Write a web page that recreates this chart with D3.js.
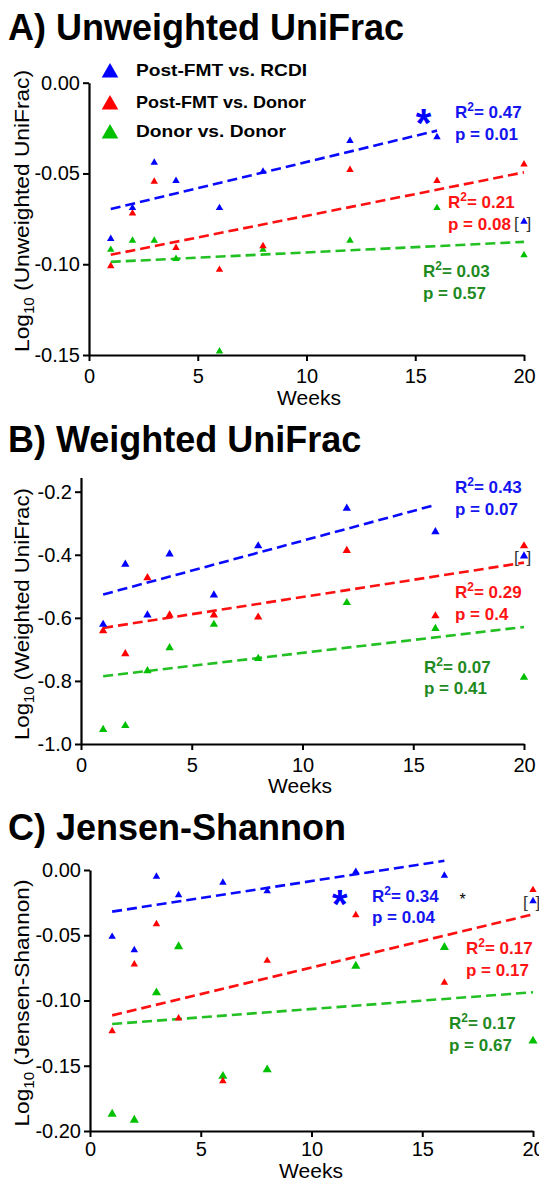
<!DOCTYPE html>
<html>
<head>
<meta charset="utf-8">
<script src="https://cdn.jsdelivr.net/npm/d3@7"></script>
<style>
  html, body { margin: 0; padding: 0; background: #fff; }
  svg { display: block; }
  text { font-family: "Liberation Sans", Arial, Helvetica, sans-serif; }
</style>
</head>
<body>
<div id="chart"></div>
<script>
// ---------------- DATA ----------------
const weeks = [1, 2, 3, 4, 6, 8, 12, 16, 20];
const seriesNames = ["Post-FMT vs. RCDI", "Post-FMT vs. Donor", "Donor vs. Donor"];

// A) Unweighted UniFrac (log10)
const unwRcdi  = [-0.086, -0.069, -0.044, -0.054, -0.069, -0.049, -0.032, -0.030, -0.0765];
const unwDonor = [-0.101, -0.072, -0.0545, -0.091, -0.103, -0.090, -0.048, -0.054, -0.045];
const unwDD    = [-0.092, -0.087, -0.087, -0.097, -0.148, -0.092, -0.087, -0.069, -0.095];
const unwFitRcdi  = [-0.0696, -0.0264];
const unwFitDonor = [-0.0948, -0.0494];
const unwFitDD    = [-0.0987, -0.0877];
const unwR2 = ["0.47", "0.21", "0.03"];
const unwP  = ["0.01", "0.08", "0.57"];

// B) Weighted UniFrac (log10)
const wRcdi  = [-0.621, -0.430, -0.591, -0.398, -0.528, -0.372, -0.253, -0.327, -0.404];
const wDonor = [-0.641, -0.714, -0.473, -0.591, -0.591, -0.598, -0.387, -0.594, -0.372];
const wDD    = [-0.954, -0.942, -0.768, -0.695, -0.621, -0.729, -0.552, -0.634, -0.789];
const wFitRcdi  = [-0.526, -0.242];
const wFitDonor = [-0.632, -0.425];
const wFitDD    = [-0.785, -0.629];
const wR2 = ["0.43", "0.29", "0.07"];
const wP  = ["0.07", "0.4", "0.41"];

// C) Jensen-Shannon (log10)
const jsRcdi  = [-0.0511, -0.0613, -0.0051, -0.0192, -0.0097, -0.0161, -0.0013, -0.0043, -0.0238];
const jsDonor = [-0.1234, -0.0723, -0.0414, -0.1137, -0.1617, -0.0695, -0.0345, -0.0863, -0.0153];
const jsDD    = [-0.187, -0.1916, -0.094, -0.0587, -0.158, -0.153, -0.0736, -0.0593, -0.131];
const jsFitRcdi  = [-0.0319, 0.0071];
const jsFitDonor = [-0.1114, -0.034];
const jsFitDD    = [-0.118, -0.0937];
const jsR2 = ["0.34", "0.17", "0.17"];
const jsP  = ["0.04", "0.17", "0.67"];

// fit line week spans
const fitWeeksRcdi = [1, 16];
const fitWeeksAll  = [1, 20];

// ticks
const xTicks  = [0, 5, 10, 15, 20];
const xLabels = ["0", "5", "10", "15", "20"];
const yTicksA  = [0, -0.05, -0.10, -0.15];
const yLabelsA = ["0.00", "-0.05", "-0.10", "-0.15"];
const yTicksB  = [-0.2, -0.4, -0.6, -0.8, -1.0];
const yLabelsB = ["-0.2", "-0.4", "-0.6", "-0.8", "-1.0"];
const yTicksC  = [0, -0.05, -0.10, -0.15, -0.20];
const yLabelsC = ["0.00", "-0.05", "-0.10", "-0.15", "-0.20"];

// ---------------- STYLE ----------------
const W = 539, H = 1182;
const ptColor   = ["#0000ff", "#ff0000", "#00c000"];
const lineColor = ["#0a0aff", "#ff1010", "#22c022"];
const txtColor  = ["#1414f0", "#ff1414", "#1f8a1f"];
const FONT = '"Liberation Sans", Arial, Helvetica, sans-serif';

const svg = d3.select("#chart").append("svg")
  .attr("width", W).attr("height", H)
  .attr("viewBox", `0 0 ${W} ${H}`);
svg.append("rect").attr("width", W).attr("height", H).attr("fill", "#fff");

const panels = [
  {
    title: "A) Unweighted UniFrac", titleY: 40,
    yName: " (Unweighted UniFrac)", yLabelCy: 211, yLabelLen: 282,
    xRange: [89, 524], yRange: [355, 82.7], yDomain: [-0.15, 0],
    yTicks: yTicksA, yLabels: yLabelsA, xPad: 8,
    series: [unwRcdi, unwDonor, unwDD],
    fits: [unwFitRcdi, unwFitDonor, unwFitDD],
    r2: unwR2, p: unwP,
    ann: [[455, 118, 140], [448, 208, 230], [423, 277, 299]],
    weeksPos: [309, 405],
    tri: [24, 24, 24],
    stars: [{x: 423.5, y: 137, size: 40, color: "#0000ff", weight: "bold"}],
    legend: true
  },
  {
    title: "B) Weighted UniFrac", titleY: 452,
    yName: " (Weighted UniFrac)", yLabelCy: 614, yLabelLen: 252,
    xRange: [81, 524], yRange: [744, 477.5], yDomain: [-1.0, -0.155],
    yTicks: yTicksB, yLabels: yLabelsB, xPad: 8,
    series: [wRcdi, wDonor, wDD],
    fits: [wFitRcdi, wFitDonor, wFitDD],
    r2: wR2, p: wP,
    ann: [[455, 493, 515], [455, 598, 620], [424, 673, 694]],
    weeksPos: [300, 793],
    tri: [30, 30, 30],
    stars: [],
    legend: false
  },
  {
    title: "C) Jensen-Shannon", titleY: 840,
    yName: " (Jensen-Shannon)", yLabelCy: 1003, yLabelLen: 247,
    xRange: [90, 533], yRange: [1131, 870], yDomain: [-0.20, 0],
    yTicks: yTicksC, yLabels: yLabelsC, xPad: 5,
    series: [jsRcdi, jsDonor, jsDD],
    fits: [jsFitRcdi, jsFitDonor, jsFitDD],
    r2: jsR2, p: jsP,
    ann: [[372, 902, 923], [466, 954, 976], [449, 1029, 1051]],
    weeksPos: [311, 1178],
    tri: [24, 24, 36],
    stars: [
      {x: 339.7, y: 918, size: 40, color: "#0000ff", weight: "bold"},
      {x: 462.7, y: 904.5, size: 16, color: "#000", weight: "normal"}
    ],
    legend: false
  }
];

panels.forEach(P => {
  const g = svg.append("g");
  const x = d3.scaleLinear().domain([0, 20]).range(P.xRange);
  const y = d3.scaleLinear().domain(P.yDomain).range(P.yRange);

  // title
  g.append("text").attr("x", 8).attr("y", P.titleY)
    .attr("font-size", 36).attr("font-weight", "bold").attr("fill", "#000")
    .text(P.title);

  // axes
  const yAxis = d3.axisLeft(y).tickValues(P.yTicks)
    .tickFormat((d, i) => P.yLabels[i]).tickSize(6).tickSizeOuter(0).tickPadding(3);
  const ya = g.append("g").attr("transform", `translate(${P.xRange[0]},0)`).call(yAxis);
  const xAxis = d3.axisBottom(x).tickValues(xTicks)
    .tickFormat((d, i) => xLabels[i]).tickSize(6).tickSizeOuter(0).tickPadding(P.xPad);
  const xa = g.append("g").attr("transform", `translate(0,${P.yRange[0]})`).call(xAxis);
  [ya, xa].forEach(a => {
    a.select(".domain").attr("stroke", "#000").attr("stroke-width", 2.2);
    a.selectAll(".tick line").attr("stroke", "#000").attr("stroke-width", 2);
    a.selectAll(".tick text").attr("font-size", 20).attr("font-family", FONT).attr("fill", "#000");
  });

  // y label (rotated)
  const yl = g.append("text")
    .attr("transform", `translate(29,${P.yLabelCy}) rotate(-90)`)
    .attr("text-anchor", "middle").attr("font-size", 21).attr("fill", "#000")
    .attr("textLength", P.yLabelLen).attr("lengthAdjust", "spacingAndGlyphs");
  yl.append("tspan").text("Log");
  yl.append("tspan").attr("font-size", 14).attr("dy", 5).text("10");
  yl.append("tspan").attr("dy", -5).text(P.yName);

  // x label
  g.append("text").attr("x", P.weeksPos[0]).attr("y", P.weeksPos[1])
    .attr("text-anchor", "middle").attr("font-size", 21).attr("fill", "#000").text("Weeks");

  // fit lines
  const line = d3.line().x(d => x(d[0])).y(d => y(d[1]));
  P.fits.forEach((f, si) => {
    const wk = si === 0 ? fitWeeksRcdi : fitWeeksAll;
    g.append("path").datum(wk.map((w, i) => [w, f[i]]))
      .attr("d", line).attr("fill", "none")
      .attr("stroke", lineColor[si]).attr("stroke-width", 2.6)
      .attr("stroke-dasharray", "10,5");
  });

  // points (draw green, red, then blue on top)
  [2, 1, 0].forEach(si => {
    const sym = d3.symbol().type(d3.symbolTriangle).size(P.tri[si]);
    g.append("g").selectAll("path").data(weeks.map((w, i) => [w, P.series[si][i]]))
      .join("path")
      .attr("transform", d => `translate(${x(d[0])},${y(d[1])})`)
      .attr("d", sym).attr("fill", ptColor[si]);
  });

  // brackets around the excluded RCDI week-20 point
  const bx = x(weeks[weeks.length - 1]);
  const by = y(P.series[0][weeks.length - 1]) + 7;
  g.append("text").attr("x", bx - 10).attr("y", by).attr("font-size", 17).attr("fill", "#333").text("[");
  g.append("text").attr("x", bx + 2.5).attr("y", by).attr("font-size", 17).attr("fill", "#333").text("]");

  // stats annotations
  P.ann.forEach((a, si) => {
    const t = g.append("text").attr("x", a[0]).attr("y", a[1])
      .attr("font-size", 17).attr("font-weight", "bold").attr("fill", txtColor[si]);
    t.append("tspan").text("R");
    t.append("tspan").attr("font-size", 12).attr("dy", -7).text("2");
    t.append("tspan").attr("dy", 7).text("= " + P.r2[si]);
    g.append("text").attr("x", a[0]).attr("y", a[2])
      .attr("font-size", 17).attr("font-weight", "bold").attr("fill", txtColor[si])
      .text("p = " + P.p[si]);
  });

  // significance stars
  P.stars.forEach(s => {
    g.append("text").attr("x", s.x).attr("y", s.y).attr("text-anchor", "middle")
      .attr("font-size", s.size).attr("font-weight", s.weight).attr("fill", s.color).text("*");
  });

  // legend
  if (P.legend) {
    const rows = [75.7, 107.7, 136.7];
    const lens = [171, 170, 150];
    const lsym = d3.symbol().type(d3.symbolTriangle).size(120);
    seriesNames.forEach((n, i) => {
      g.append("path").attr("transform", `translate(110,${rows[i] - 3})`)
        .attr("d", lsym).attr("fill", ptColor[i]);
      g.append("text").attr("x", 136).attr("y", rows[i])
        .attr("font-size", 17).attr("font-weight", "bold").attr("fill", "#000")
        .attr("textLength", lens[i]).attr("lengthAdjust", "spacingAndGlyphs")
        .text(n);
    });
  }
});
</script>
</body>
</html>
